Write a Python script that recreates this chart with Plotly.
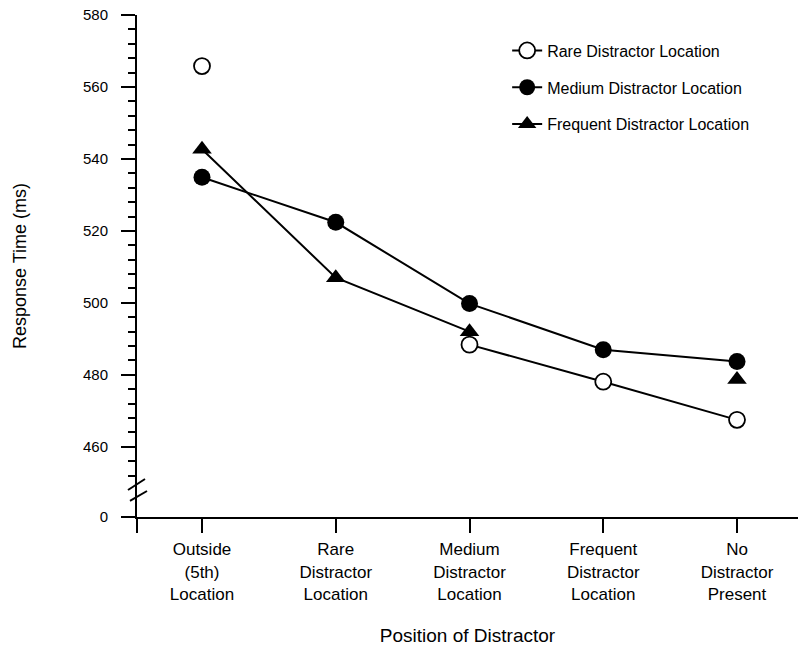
import plotly.graph_objects as go

categories = ["Outside<br>(5th)<br>Location", "Rare<br>Distractor<br>Location",
              "Medium<br>Distractor<br>Location", "Frequent<br>Distractor<br>Location",
              "No<br>Distractor<br>Present"]
x_pos = [0, 1, 2, 3, 4]

rare_vals = [565.8, None, 488.4, 478.1, 467.5]
medium_vals = [534.9, 522.4, 499.8, 487.0, 483.7]
frequent_vals = [542.7, 507.0, 492.0, None, 478.7]

major_ticks = [460, 480, 500, 520, 540, 560, 580]
minor_ticks = [452, 456, 464, 468, 472, 476, 484, 488, 492, 496, 504, 508, 512, 516,
               524, 528, 532, 536, 544, 548, 552, 556, 564, 568, 572, 576]
ZERO_POS = 440.5  # display position of the "0" after the axis break

FONT = "Liberation Sans, Arial, Helvetica, sans-serif"

fig = go.Figure()

fig.add_trace(go.Scatter(
    x=x_pos, y=frequent_vals, name="Frequent Distractor Location",
    mode="lines+markers", connectgaps=False, legendrank=3,
    line=dict(color="black", width=2),
    marker=dict(symbol="triangle-up", size=17, color="black", line=dict(width=0)),
    legendgroup="f"))
fig.add_trace(go.Scatter(
    x=x_pos, y=medium_vals, name="Medium Distractor Location",
    mode="lines+markers", connectgaps=False, legendrank=2,
    line=dict(color="black", width=2),
    marker=dict(symbol="circle", size=17, color="black", line=dict(width=0)),
    legendgroup="m"))
fig.add_trace(go.Scatter(
    x=x_pos, y=rare_vals, name="Rare Distractor Location",
    mode="lines+markers", connectgaps=False, legendrank=1,
    line=dict(color="black", width=2),
    marker=dict(symbol="circle", size=16, color="white", line=dict(width=1.8, color="black")),
    legendgroup="r"))

axis_x_left = -0.486

fig.update_layout(
    width=798, height=649,
    margin=dict(l=137, r=0, t=15, b=132),
    paper_bgcolor="white", plot_bgcolor="white",
    font=dict(family=FONT, color="black"),
    showlegend=True,
    legend=dict(x=0.56, y=0.963, xanchor="left", yanchor="top",
                font=dict(size=16, family=FONT), tracegroupgap=13,
                bgcolor="rgba(0,0,0,0)"),
    xaxis=dict(
        range=[axis_x_left, 4.456],
        tickmode="array",
        tickvals=[axis_x_left] + x_pos,
        ticktext=[""] + categories,
        ticks="outside", ticklen=14, tickwidth=2, tickcolor="black",
        ticklabelstandoff=2,
        showline=True, linecolor="black", linewidth=2,
        showgrid=False, zeroline=False,
        tickfont=dict(size=17, family=FONT),
        title=dict(text="Position of Distractor", font=dict(size=19, family=FONT), standoff=26),
    ),
    yaxis=dict(
        range=[ZERO_POS, 580],
        tickmode="array",
        tickvals=[ZERO_POS] + major_ticks,
        ticktext=["0"] + [str(v) for v in major_ticks],
        ticks="outside", ticklen=14, tickwidth=2, tickcolor="black",
        ticklabelstandoff=10,
        minor=dict(tickvals=minor_ticks, ticks="outside", ticklen=7, tickwidth=2,
                   tickcolor="black", showgrid=False),
        showline=True, linecolor="black", linewidth=2,
        showgrid=False, zeroline=False,
        tickfont=dict(size=15, family=FONT),
        title=dict(text="Response Time (ms)", font=dict(size=18, family=FONT), standoff=52),
    ),
)

# axis-break marks
for (x0, y0, x1, y1) in [(-0.0136, 0.0538, 0.0121, 0.0757), (-0.0106, 0.0319, 0.0151, 0.0518)]:
    fig.add_shape(type="line", xref="paper", yref="paper", x0=x0, y0=y0, x1=x1, y1=y1,
                  line=dict(color="black", width=2), layer="above")

fig.write_html("out.html")
